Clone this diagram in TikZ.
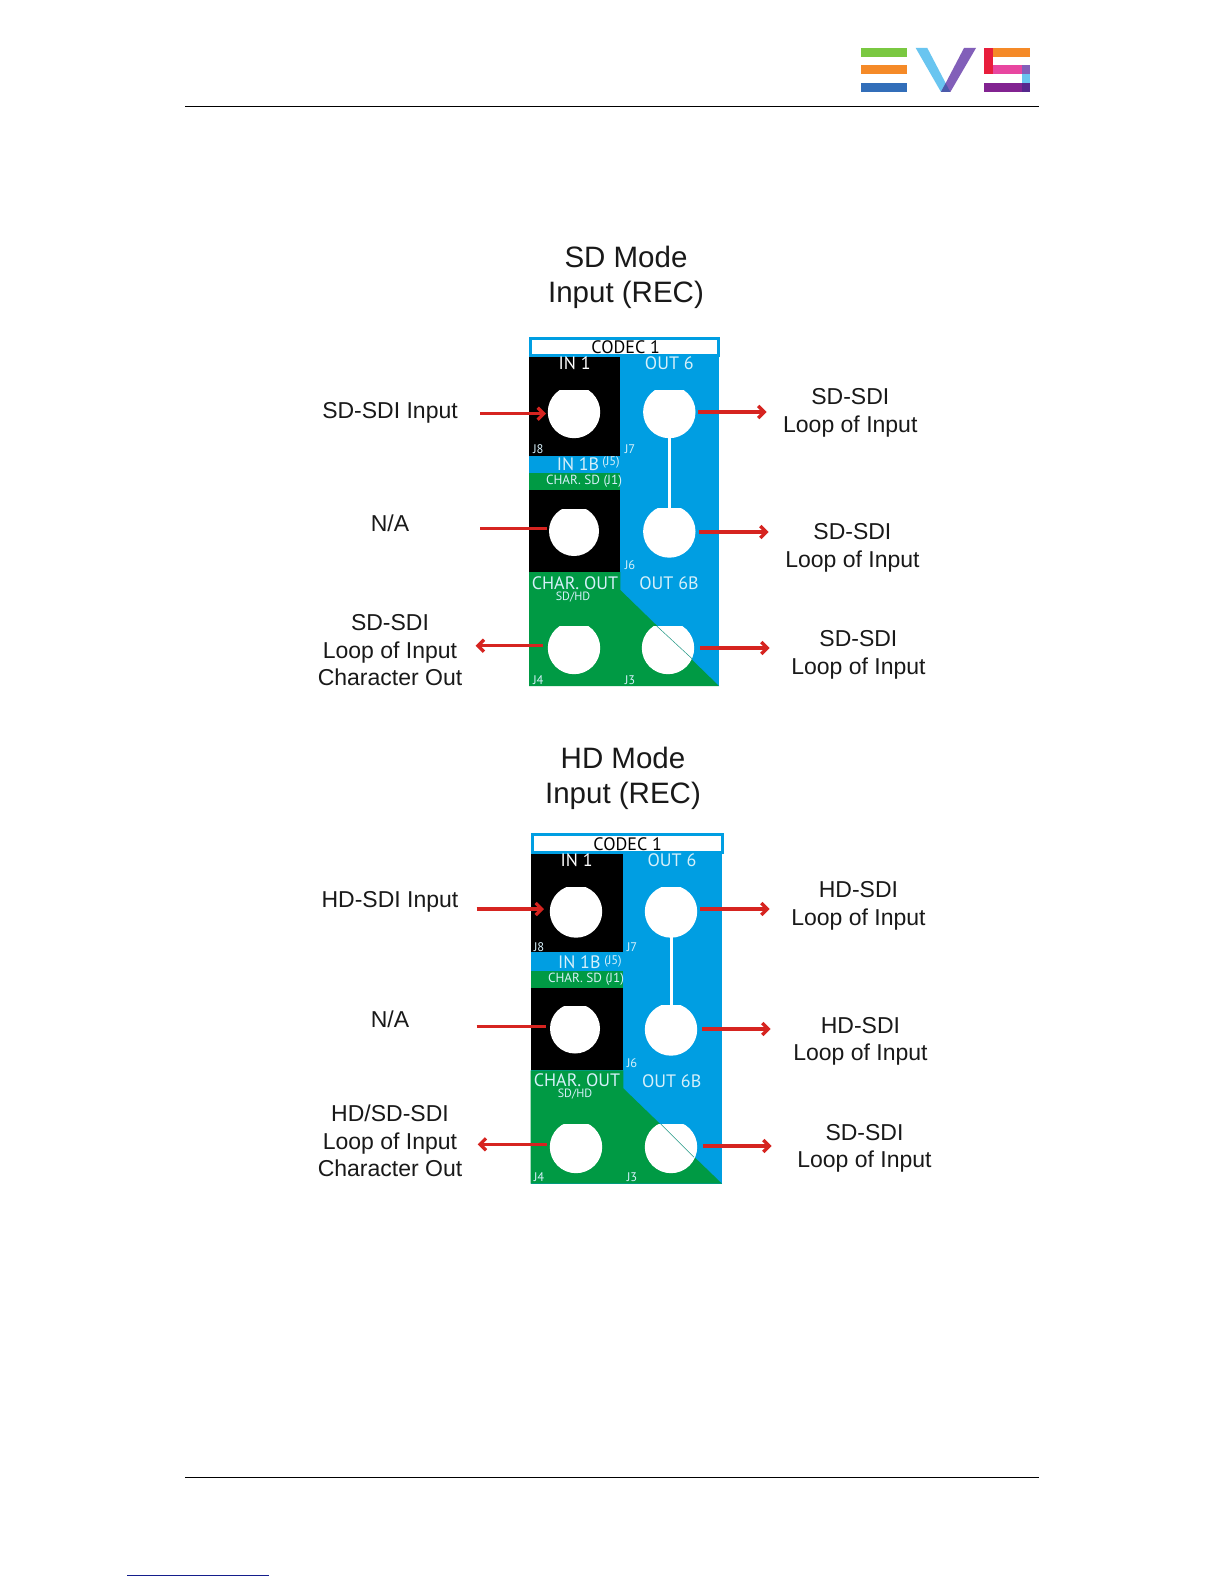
\documentclass[tikz,border=0pt]{standalone}
\usepackage{fontspec}
\setmainfont{Liberation Sans}
\newfontfamily\panelfont{PT Sans}
\usetikzlibrary{arrows.meta}
\definecolor{pblue}{RGB}{0,158,226}
\definecolor{pgreen}{RGB}{0,154,68}
\definecolor{ptext}{RGB}{214,240,250}
\definecolor{ared}{RGB}{214,36,32}
\definecolor{teal2}{RGB}{30,150,130}
\definecolor{lgreen}{RGB}{122,200,65}
\definecolor{lorange}{RGB}{245,138,40}
\definecolor{lblue}{RGB}{50,110,185}
\definecolor{lsky}{RGB}{105,197,240}
\definecolor{lviolet}{RGB}{130,95,185}
\definecolor{lindigo}{RGB}{75,90,170}
\definecolor{lred}{RGB}{232,30,60}
\definecolor{lpink}{RGB}{232,70,160}
\definecolor{lpurple}{RGB}{130,35,145}
\definecolor{ldark}{RGB}{85,40,140}
\tikzset{
 title/.style={font=\fontsize{29.5}{35.5}\selectfont,align=center,inner sep=0pt,text=black!90},
 lab/.style={font=\fontsize{23}{27.5}\selectfont,align=center,inner sep=0pt,text=black!90},
 big/.style={font=\panelfont\fontsize{18}{18}\selectfont,inner sep=0pt},
 mid/.style={font=\panelfont\fontsize{13.2}{15}\selectfont,inner sep=0pt},
 tiny/.style={font=\panelfont\fontsize{12.5}{13}\selectfont,inner sep=0pt,text=ptext},
 sub/.style={font=\panelfont\fontsize{12}{13}\selectfont,inner sep=0pt,text=ptext},
 onblack/.style={text=white},
 oncol/.style={text=ptext},
 redarrow/.style={draw=ared,line width=3.3pt,-{Straight Barb[length=6pt,width=12pt,line width=3.3pt]}},
 redline/.style={draw=ared,line width=3.3pt},
 rule/.style={draw=black,line width=1pt},
}
% \porthole{name}{x}{y}{r}{flat top y}
\newcommand{\porthole}[5]{%
 \begin{scope}
  \clip (#2-40,#5) rectangle (#2+40,#3+40);
  \node[circle,fill=white,minimum size=#4*2pt,inner sep=0pt] (#1) at (#2,#3) {};
 \end{scope}}
\begin{document}
\begin{tikzpicture}[x=1pt,y=-1pt]
\useasboundingbox (0,0) rectangle (1224,1584);
\fill[white] (0,0) rectangle (1224,1584);
% page rules
\coordinate (rtl) at (185,106.3); \coordinate (rtr) at (1039,106.3);
\coordinate (rbl) at (185,1477.3); \coordinate (rbr) at (1039,1477.3);
\coordinate (lnl) at (127,1575.3); \coordinate (lnr) at (269,1575.3);
\draw[rule] (rtl) -- (rtr);
\draw[rule] (rbl) -- (rbr);
\draw[draw={rgb,255:red,20;green,30;blue,140},line width=1pt] (lnl) -- (lnr);
% logo
\fill[lgreen] (861,48) rectangle (907,56.7);
\fill[lorange] (861,65) rectangle (907,73.7);
\fill[lblue] (861,82.7) rectangle (907,92);
\fill[lsky] (915.7,48) -- (927.3,48) -- (950.3,92) -- (941,92) -- cycle;
\fill[lviolet] (964,48) -- (976,48) -- (950.3,92) -- (941,92) -- cycle;
\fill[lindigo] (945.7,83.3) -- (950.3,92) -- (941,92) -- cycle;
\fill[lred] (984,48) rectangle (993,73.7);
\fill[lorange] (993,48) rectangle (1030,56.7);
\fill[lpink] (993,65) rectangle (1021.7,73.7);
\fill[lviolet] (1021.7,65) rectangle (1030,73.7);
\fill[lsky] (1021.7,73.7) rectangle (1030,82.7);
\fill[ldark] (1021.7,82.7) rectangle (1030,92);
\fill[lpurple] (984,82.7) rectangle (1021.7,92);

% ---------- SD panel
\node[title] (t1) at (626,277.5) {SD Mode\\Input (REC)};
\fill[pblue] (529,337) rectangle (719,686);
\fill[black] (529,357) rectangle (620.3,455.7);
\fill[pgreen] (529,472.7) rectangle (620.3,490);
\fill[black] (529,490) rectangle (620.3,572);
\fill[pgreen] (529,572) -- (620.3,572) -- (620.3,590) -- (719,686) -- (529,686) -- cycle;
\draw[draw=pblue,fill=white,line width=3pt] (530.5,338.2) rectangle (718.8,355.8);
\porthole{a1}{574}{412}{26.2}{390.7}
\porthole{a2}{574}{531}{25}{509}
\porthole{a3}{574}{648}{26.2}{626}
\porthole{a4}{669.3}{412}{26.2}{390.7}
\porthole{a5}{669.3}{531.5}{26.2}{508.3}
\porthole{a6}{668}{648}{26.2}{626}
\draw[white,line width=3pt] (a4.center) -- (a5.center);
\coordinate (a6p) at (656.7,626); \coordinate (a6q) at (692.7,659.3);
\draw[teal2,line width=0.5pt] (a6p) -- (a6q);
\node[big,text=black] (ac) at (625.7,346.7) {CODEC 1};
\node[big,onblack] (ai1) at (574.7,363.3) {IN 1};
\node[big,oncol] (ao6) at (669.3,363.3) {OUT 6};
\node[big,oncol] (ai1b) at (578,464) {IN 1B};
\node[tiny] (aj5) at (611,462.7) {(J5)};
\node[mid,oncol] (acs) at (584,481.7) {CHAR. SD (J1)};
\node[big,oncol] (aco) at (575,583) {CHAR. OUT};
\node[sub] (asd) at (573,597) {SD/HD};
\node[big,oncol] (ao6b) at (669,582.7) {OUT 6B};
\node[tiny] (aj8) at (538.3,449) {J8};
\node[tiny] (aj7) at (630,449) {J7};
\node[tiny] (aj6) at (630,565) {J6};
\node[tiny] (aj4) at (538.3,680) {J4};
\node[tiny] (aj3) at (630,680) {J3};
\node[lab] (al1) at (390,413) {SD-SDI Input};
\node[lab] (al2) at (390,523) {N/A};
\node[lab] (al3) at (390,650.4) {SD-SDI\\Loop of Input\\Character Out};
\node[lab] (ar1) at (850.3,413) {SD-SDI\\Loop of Input};
\node[lab] (ar2) at (852.4,547.7) {SD-SDI\\Loop of Input};
\node[lab] (ar3) at (858.4,654.7) {SD-SDI\\Loop of Input};
\coordinate (ax1) at (480,413.7); \coordinate (ax1e) at (546,413.7);
\coordinate (ax2) at (480,528.7); \coordinate (ax2e) at (546.7,528.7);
\coordinate (ax3) at (543,645.7); \coordinate (ax3e) at (475.7,645.7);
\coordinate (ax4) at (698,412); \coordinate (ax4e) at (766.5,412);
\coordinate (ax5) at (699,532); \coordinate (ax5e) at (768.6,532);
\coordinate (ax6) at (700,648); \coordinate (ax6e) at (769.6,648);
\draw[redarrow] (ax1) -- (ax1e);
\draw[redline] (ax2) -- (ax2e);
\draw[redarrow] (ax3) -- (ax3e);
\draw[redarrow] (ax4) -- (ax4e);
\draw[redarrow] (ax5) -- (ax5e);
\draw[redarrow] (ax6) -- (ax6e);

% ---------- HD panel
\node[title] (t2) at (623,778.5) {HD Mode\\Input (REC)};
\fill[pblue] (530.7,833) rectangle (722,1183.7);
\fill[black] (530.7,854) rectangle (623.3,952);
\fill[pgreen] (530.7,970.7) rectangle (623.3,987.7);
\fill[black] (530.7,987.7) rectangle (623.3,1070.3);
\fill[pgreen] (530.7,1070.3) -- (623.3,1070.3) -- (623.3,1088.3) -- (722,1183.7) -- (530.7,1183.7) -- cycle;
\draw[draw=pblue,fill=white,line width=3pt] (532.2,834.5) rectangle (722,852.3);
\porthole{b1}{576}{911.5}{26.2}{887.3}
\porthole{b2}{575}{1028.5}{25}{1006.7}
\porthole{b3}{576}{1147}{26.2}{1124}
\porthole{b4}{671}{911.5}{26.2}{887.7}
\porthole{b5}{671}{1029.5}{26.2}{1005.7}
\porthole{b6}{671}{1147}{26.2}{1124}
\draw[white,line width=3pt] (b4.center) -- (b5.center);
\coordinate (b6p) at (660.7,1124); \coordinate (b6q) at (694,1157.3);
\draw[teal2,line width=0.5pt] (b6p) -- (b6q);
\node[big,text=black] (bc) at (627.7,844) {CODEC 1};
\node[big,onblack] (bi1) at (576.7,860) {IN 1};
\node[big,oncol] (bo6) at (672,860) {OUT 6};
\node[big,oncol] (bi1b) at (579.3,961.7) {IN 1B};
\node[tiny] (bj5) at (613,961) {(J5)};
\node[mid,oncol] (bcs) at (586,979.3) {CHAR. SD (J1)};
\node[big,oncol] (bco) at (577,1080) {CHAR. OUT};
\node[sub] (bsd) at (575,1094) {SD/HD};
\node[big,oncol] (bo6b) at (671.7,1080.7) {OUT 6B};
\node[tiny] (bj8) at (539,946.7) {J8};
\node[tiny] (bj7) at (632,947) {J7};
\node[tiny] (bj6) at (632,1063) {J6};
\node[tiny] (bj4) at (539,1177) {J4};
\node[tiny] (bj3) at (632,1177) {J3};
\node[lab] (bl1) at (390,902) {HD-SDI Input};
\node[lab] (bl2) at (390,1019) {N/A};
\node[lab] (bl3) at (390,1141) {HD/SD-SDI\\Loop of Input\\Character Out};
\node[lab] (br1) at (858.4,906) {HD-SDI\\Loop of Input};
\node[lab] (br2) at (860.4,1041.5) {HD-SDI\\Loop of Input};
\node[lab] (br3) at (864.5,1148.5) {SD-SDI\\Loop of Input};
\coordinate (bx1) at (476.7,909); \coordinate (bx1e) at (544,909);
\coordinate (bx2) at (476.7,1026.7); \coordinate (bx2e) at (545.7,1026.7);
\coordinate (bx3) at (546.7,1144.3); \coordinate (bx3e) at (477.7,1144.3);
\coordinate (bx4) at (700,909); \coordinate (bx4e) at (769.6,909);
\coordinate (bx5) at (702,1029); \coordinate (bx5e) at (770.6,1029);
\coordinate (bx6) at (703,1146); \coordinate (bx6e) at (771.6,1146);
\draw[redarrow] (bx1) -- (bx1e);
\draw[redline] (bx2) -- (bx2e);
\draw[redarrow] (bx3) -- (bx3e);
\draw[redarrow] (bx4) -- (bx4e);
\draw[redarrow] (bx5) -- (bx5e);
\draw[redarrow] (bx6) -- (bx6e);
\end{tikzpicture}
\end{document}
